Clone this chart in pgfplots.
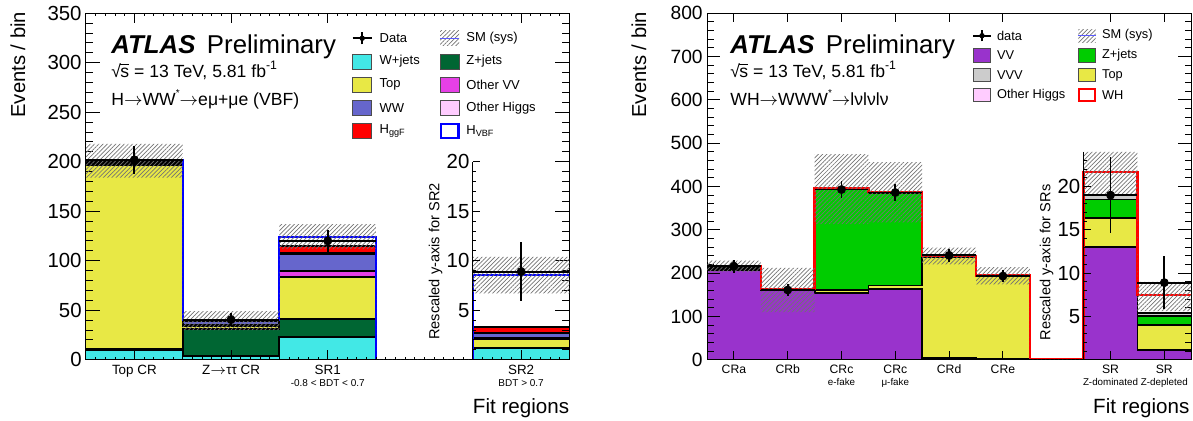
\documentclass[border=0pt]{standalone}
\usepackage{pgfplots}
\pgfplotsset{compat=1.18}
\usepackage{pgfplotstable}
\usetikzlibrary{patterns.meta}
\usepackage{fontspec}
\setmainfont{Liberation Sans}
\newcommand{\fs}[1]{\fontsize{#1}{#1}\selectfont}
\newcommand{\ar}{$\rightarrow$}
\newcommand{\st}{\raisebox{4.2pt}{\fs{5}*}}
\newcommand{\sqs}{√\kern-0.3pt\rlap{\rule[6.3pt]{4.4pt}{0.45pt}}s}

\definecolor{cWj}{RGB}{66,232,230}
\definecolor{cTop}{RGB}{232,232,69}
\definecolor{cWW}{RGB}{102,102,204}
\definecolor{cZjL}{RGB}{0,102,51}
\definecolor{cOVV}{RGB}{230,64,230}
\definecolor{cOH}{RGB}{255,204,255}
\definecolor{cVV}{RGB}{153,51,204}
\definecolor{cVVV}{RGB}{204,204,204}
\definecolor{cZjR}{RGB}{0,204,0}
\definecolor{cSM}{RGB}{90,90,255}

\tikzset{hatch/.style={pattern={Lines[angle=45,distance=1.5pt,line width=0.35pt]}, pattern color=black!55}}

% ---------- left panel: H->WW (VBF) ----------
\pgfplotstableread{
x s wj zj top ovv ww oh ggf vbf lo hi
0 1 10 0.5 186.5 1 2 0.3 0.7 1 184 218
1 1 4 27 3 1.5 3 0.3 0.5 0.7 30 49
2 1 23 18 42.5 6 17.5 1 6.5 9.5 112 137
3 1 0 0 0 0 0 0 0 0 0 0
4 10 1.15 0.05 0.85 0.15 0.45 0.05 0.6 5.3 6.7 10.4
5 10 1.15 0.05 0.85 0.15 0.45 0.05 0.6 5.3 6.7 10.4
}\tabL
\pgfplotstablecreatecol[create col/expr={\thisrow{wj}*\thisrow{s}}]{c1}{\tabL}
\pgfplotstablecreatecol[create col/expr={\thisrow{c1}+\thisrow{zj}*\thisrow{s}}]{c2}{\tabL}
\pgfplotstablecreatecol[create col/expr={\thisrow{c2}+\thisrow{top}*\thisrow{s}}]{c3}{\tabL}
\pgfplotstablecreatecol[create col/expr={\thisrow{c3}+\thisrow{ovv}*\thisrow{s}}]{c4}{\tabL}
\pgfplotstablecreatecol[create col/expr={\thisrow{c4}+\thisrow{ww}*\thisrow{s}}]{c5}{\tabL}
\pgfplotstablecreatecol[create col/expr={\thisrow{c5}+\thisrow{oh}*\thisrow{s}}]{c6}{\tabL}
\pgfplotstablecreatecol[create col/expr={\thisrow{c6}+\thisrow{ggf}*\thisrow{s}}]{c7}{\tabL}
\pgfplotstablecreatecol[create col/expr={\thisrow{c7}+\thisrow{vbf}*\thisrow{s}}]{c8}{\tabL}

\pgfplotstableread{
x d e s
0 202 14.2 1
1 40.5 6.4 1
2 120 11 1
4 8.9 3.0 10
}\datL

% ---------- right panel: WH->WWW ----------
\pgfplotstableread{
x s vv top zj vvv oh wh lo hi
0 1 206 4 3 2 0.3 0.7 202 229
1 1 160 0.5 0.5 1 0.2 0.8 110 212
2 1 154.5 6.5 232 1.5 0.3 1.2 313 475
3 1 162.5 9 214 1 0.2 0.8 317 456
4 1 3 235 0.5 0.5 0.3 0.7 220 259
5 1 1.5 191.5 0.3 0.2 0.2 0.8 174 214
6 1 0 0 0 0 0 0 0 0
7 20 13 3.4 2.1 0.45 0.05 2.7 19.1 24
8 20 1.15 2.85 1 0.4 0.05 2.05 5.6 9.0
9 20 1.15 2.85 1 0.4 0.05 2.05 5.6 9.0
}\tabR
\pgfplotstablecreatecol[create col/expr={\thisrow{vv}*\thisrow{s}}]{c1}{\tabR}
\pgfplotstablecreatecol[create col/expr={\thisrow{c1}+\thisrow{top}*\thisrow{s}}]{c2}{\tabR}
\pgfplotstablecreatecol[create col/expr={\thisrow{c2}+\thisrow{zj}*\thisrow{s}}]{c3}{\tabR}
\pgfplotstablecreatecol[create col/expr={\thisrow{c3}+\thisrow{vvv}*\thisrow{s}}]{c4}{\tabR}
\pgfplotstablecreatecol[create col/expr={\thisrow{c4}+\thisrow{oh}*\thisrow{s}}]{c5}{\tabR}
\pgfplotstablecreatecol[create col/expr={\thisrow{c5}+\thisrow{wh}*\thisrow{s}}]{c6}{\tabR}

\pgfplotstableread{
x d e s
0 216 15 1
1 161 13 1
2 393 20 1
3 386 20 1
4 241 15.5 1
5 193 14 1
7 19 4.4 20
8 8.9 3.05 20
}\datR

\pgfplotsset{
  atlas/.style={
    scale only axis, anchor=south west, axis on top,
    axis line style={line width=0.5pt},
    every tick/.append style={black, line width=0.5pt},
    /pgf/number format/assume math mode=true,
    yticklabel style={inner sep=0pt, xshift=-2pt},
    xticklabel style={align=center, inner sep=0pt, yshift=-2.4pt},
  },
  over/.style={scale only axis, anchor=south west, hide axis, clip=false},
  lay/.style={const plot, draw=none, fill=#1, forget plot},
  edge/.style={const plot, black, line width=0.9pt, forget plot},
  datstep/.style={only marks, mark=none, forget plot,
    error bars/.cd, x dir=both, x fixed=0.5, error mark=none,
    error bar style={black, line width=0.9pt}},
  datpt/.style={only marks, mark=*, mark size=1.35pt, black, forget plot,
    error bars/.cd, y dir=both, y explicit, error mark=none,
    error bar style={black, line width=0.9pt}},
  second/.style={scale only axis, anchor=south west, axis x line=none, axis y line=left,
    y axis line style={-, line width=0.5pt}, tick align=inside,
    every tick/.append style={black, line width=0.5pt},
    major tick length=3.6pt, minor tick length=1.8pt,
    ytick={5,10,15,20},
    /pgf/number format/assume math mode=true,
    yticklabel style={font=\fs{10.2}, inner sep=0pt, xshift=-1.5pt},
    xmin=0, xmax=1, ymin=0},
}

\begin{document}
\begin{tikzpicture}
\useasboundingbox (0,0) rectangle (596.5pt,210.5pt);

% ================= LEFT =================
\begin{axis}[atlas, at={(43pt,30.65pt)}, width=241.75pt, height=173.2pt,
  xmin=0, xmax=5, ymin=0, ymax=350,
  ytick distance=50, minor y tick num=4,
  major tick length=7pt, minor tick length=3.5pt,
  xtick={0.5,1.5,2.5,4.5},
  minor xtick={0.1,0.2,...,4.95},
  xtick style={/pgfplots/major tick length=4.8pt, /pgfplots/minor tick length=1.4pt},
  xticklabels={Top CR, Z\ar ττ CR, {SR1\\{\fs{5}-0.8 < BDT < 0.7}}, {SR2\\{\fs{5}BDT > 0.7}}},
  yticklabel style={font=\fs{10.2}},
  xticklabel style={font=\fontsize{6.7}{6}\selectfont},
]
\addplot[lay=white] table[x=x,y=c8]{\tabL} \closedcycle;
\addplot[lay=red] table[x=x,y=c7]{\tabL} \closedcycle;
\addplot[lay=cOH] table[x=x,y=c6]{\tabL} \closedcycle;
\addplot[lay=cWW] table[x=x,y=c5]{\tabL} \closedcycle;
\addplot[lay=cOVV] table[x=x,y=c4]{\tabL} \closedcycle;
\addplot[lay=cTop] table[x=x,y=c3]{\tabL} \closedcycle;
\addplot[lay=cZjL] table[x=x,y=c2]{\tabL} \closedcycle;
\addplot[lay=cWj] table[x=x,y=c1]{\tabL} \closedcycle;
\addplot[edge] table[x=x,y=c1]{\tabL};
\addplot[edge] table[x=x,y=c2]{\tabL};
\addplot[edge] table[x=x,y=c3]{\tabL};
\addplot[edge] table[x=x,y=c4]{\tabL};
\addplot[edge] table[x=x,y=c5]{\tabL};
\addplot[edge] table[x=x,y=c6]{\tabL};
\addplot[edge] table[x=x,y=c7]{\tabL};
\addplot[const plot, blue, line width=1pt, forget plot] table[x=x,y=c8]{\tabL};
\end{axis}

% band
\begin{axis}[over, at={(43pt,30.65pt)}, width=241.75pt, height=173.2pt,
  xmin=0, xmax=5, ymin=0, ymax=350, stack plots=y]
\addplot[const plot, draw=none, forget plot] table[x=x, y expr=\thisrow{lo}*\thisrow{s}]{\tabL};
\addplot[const plot, draw=none, hatch, forget plot] table[x=x, y expr=(\thisrow{hi}-\thisrow{lo})*\thisrow{s}]{\tabL} \closedcycle;
\end{axis}

% data
\begin{axis}[over, at={(43pt,30.65pt)}, width=241.75pt, height=173.2pt,
  xmin=0, xmax=5, ymin=0, ymax=350]
\addplot[datstep] table[x expr=\thisrow{x}+0.5, y expr=\thisrow{d}*\thisrow{s}]{\datL};
\addplot[datpt] table[x expr=\thisrow{x}+0.5, y expr=\thisrow{d}*\thisrow{s}, y error expr=\thisrow{e}*\thisrow{s}]{\datL};
\end{axis}

\begin{axis}[second, at={(236.4pt,30.65pt)}, width=48.35pt, height=98.97pt, ymax=20,
  minor ytick={1,2,3,4,6,7,8,9,11,12,13,14,16,17,18,19}]
\addplot[draw=none, forget plot] coordinates {(0,0) (1,20)};
\end{axis}

% ================= RIGHT =================
\begin{axis}[atlas, at={(353.5pt,30.65pt)}, width=242.1pt, height=173.2pt,
  xmin=0, xmax=9, ymin=0, ymax=800,
  ytick distance=100, minor y tick num=4,
  major tick length=6.5pt, minor tick length=3.25pt,
  xtick={0.5,1.5,2.5,3.5,4.5,5.5,7.5,8.5},
  xtick style={/pgfplots/major tick length=4.4pt},
  xticklabels={CRa, CRb, {CRc\\{\fs{4.9}e-fake}}, {CRc\\{\fs{4.9}μ-fake}}, CRd, CRe, {SR\\{\fs{4.9}Z-dominated}}, {SR\\{\fs{4.9}Z-depleted}}},
  yticklabel style={font=\fs{9.6}},
  xticklabel style={font=\fontsize{6.1}{6}\selectfont},
]
\addplot[lay=white] table[x=x,y=c6]{\tabR} \closedcycle;
\addplot[lay=cOH] table[x=x,y=c5]{\tabR} \closedcycle;
\addplot[lay=cVVV] table[x=x,y=c4]{\tabR} \closedcycle;
\addplot[lay=cZjR] table[x=x,y=c3]{\tabR} \closedcycle;
\addplot[lay=cTop] table[x=x,y=c2]{\tabR} \closedcycle;
\addplot[lay=cVV] table[x=x,y=c1]{\tabR} \closedcycle;
\addplot[edge] table[x=x,y=c1]{\tabR};
\addplot[edge] table[x=x,y=c2]{\tabR};
\addplot[edge] table[x=x,y=c3]{\tabR};
\addplot[edge] table[x=x,y=c4]{\tabR};
\addplot[edge] table[x=x,y=c5]{\tabR};
\addplot[const plot, red, line width=1.2pt, forget plot] table[x=x,y=c6]{\tabR};
\end{axis}

\begin{axis}[over, at={(353.5pt,30.65pt)}, width=242.1pt, height=173.2pt,
  xmin=0, xmax=9, ymin=0, ymax=800, stack plots=y]
\addplot[const plot, draw=none, forget plot] table[x=x, y expr=\thisrow{lo}*\thisrow{s}]{\tabR};
\addplot[const plot, draw=none, hatch, forget plot] table[x=x, y expr=(\thisrow{hi}-\thisrow{lo})*\thisrow{s}]{\tabR} \closedcycle;
\end{axis}

\begin{axis}[over, at={(353.5pt,30.65pt)}, width=242.1pt, height=173.2pt,
  xmin=0, xmax=9, ymin=0, ymax=800]
\addplot[datstep] table[x expr=\thisrow{x}+0.5, y expr=\thisrow{d}*\thisrow{s}]{\datR};
\addplot[datpt] table[x expr=\thisrow{x}+0.5, y expr=\thisrow{d}*\thisrow{s}, y error expr=\thisrow{e}*\thisrow{s}]{\datR};
\end{axis}

\begin{axis}[second, at={(541.8pt,30.65pt)}, width=26.9pt, height=103.92pt, ymax=24,
  minor ytick={1,2,3,4,6,7,8,9,11,12,13,14,16,17,18,19,21,22,23}]
\addplot[draw=none, forget plot] coordinates {(0,0) (1,24)};
\end{axis}

% ================= TEXT =================
\node[rotate=90, anchor=east, inner sep=0, font=\fs{10.1}] at (8.9pt,204.7pt) {Events / bin};
\node[rotate=90, anchor=east, inner sep=0, font=\fs{10.1}] at (319.4pt,204.7pt) {Events / bin};
\node[anchor=base east, inner sep=0, font=\fs{10.3}] at (284.75pt,3.65pt) {Fit regions};
\node[anchor=base east, inner sep=0, font=\fs{10.3}] at (594.9pt,3.65pt) {Fit regions};
\node[rotate=90, inner sep=0, font=\fs{7.3}] at (217.75pt,79.75pt) {Rescaled y-axis for SR2};
\node[rotate=90, inner sep=0, font=\fs{7.3}] at (523.25pt,79.25pt) {Rescaled y-axis for SRs};

\node[anchor=base west, inner sep=0, font=\fs{12.9}] at (55.5pt,183.5pt) {\textbf{\textit{ATLAS}}\hspace{5.75pt}Preliminary};
\node[anchor=base west, inner sep=0, font=\fs{8.8}] at (55.5pt,171.85pt) {\sqs{} = 13 TeV, 5.81 fb\textsuperscript{-1}};
\node[anchor=base west, inner sep=0, font=\fs{8.8}] at (55.5pt,157.85pt) {H\ar WW\st\ar eμ+μe (VBF)};

\node[anchor=base west, inner sep=0, font=\fs{12.9}] at (365pt,183.5pt) {\textbf{\textit{ATLAS}}\hspace{5.75pt}Preliminary};
\node[anchor=base west, inner sep=0, font=\fs{8.8}] at (365pt,171.85pt) {\sqs{} = 13 TeV, 5.81 fb\textsuperscript{-1}};
\node[anchor=base west, inner sep=0, font=\fs{8.8}] at (365pt,157.85pt) {WH\ar WWW\st\ar lνlνlν};

% ---- left legend ----
\begin{scope}[font=\fs{6.5}]
\draw[line width=0.9pt] (176.35pt,191.35pt) -- (185.85pt,191.35pt);
\draw[line width=0.9pt] (181.1pt,188.3pt) -- (181.1pt,194.4pt);
\fill (181.1pt,191.35pt) circle (1.35pt);
\node[anchor=west, inner sep=0] at (189.65pt,191.35pt) {Data};
\foreach \c/\t/\y in {cWj/W+jets/179.75, cTop/Top/168.15, cWW/WW/156.55, red/{H\textsubscript{ggF}}/144.95}{
  \filldraw[fill=\c, draw=black!70, line width=0.4pt] (176.35pt,\y pt-3.75pt) rectangle (185.85pt,\y pt+3.75pt);
  \node[anchor=west, inner sep=0] at (189.65pt,\y pt) {\t};
}
\fill[hatch] (220pt,187.6pt) rectangle (229.5pt,195.1pt);
\draw[cSM, line width=0.7pt] (220pt,191.35pt) -- (229.5pt,191.35pt);
\node[anchor=west, inner sep=0] at (233pt,191.35pt) {SM (sys)};
\foreach \c/\t/\y in {cZjL/Z+jets/179.75, cOVV/Other VV/168.15, cOH/Other Higgs/156.55}{
  \filldraw[fill=\c, draw=black!70, line width=0.4pt] (220pt,\y pt-3.75pt) rectangle (229.5pt,\y pt+3.75pt);
  \node[anchor=west, inner sep=0] at (233pt,\y pt) {\t};
}
\draw[blue, line width=1.1pt, fill=white] (220.3pt,141.5pt) rectangle (229.2pt,148.4pt);
\node[anchor=west, inner sep=0] at (233pt,144.95pt) {H\textsubscript{VBF}};
\end{scope}

% ---- right legend ----
\begin{scope}[font=\fs{6.4}]
\draw[line width=0.9pt] (486.65pt,192.65pt) -- (495.35pt,192.65pt);
\draw[line width=0.9pt] (491pt,189.8pt) -- (491pt,195.5pt);
\fill (491pt,192.65pt) circle (1.35pt);
\node[anchor=west, inner sep=0] at (498.35pt,192.65pt) {data};
\foreach \c/\t/\y in {cVV/VV/182.75, cVVV/VVV/172.85, cOH/Other Higgs/162.95}{
  \filldraw[fill=\c, draw=black!70, line width=0.4pt] (486.65pt,\y pt-3.3pt) rectangle (495.35pt,\y pt+3.3pt);
  \node[anchor=west, inner sep=0] at (498.35pt,\y pt) {\t};
}
\fill[hatch] (539.15pt,189.35pt) rectangle (547.85pt,195.95pt);
\draw[cSM, line width=0.7pt] (539.15pt,192.65pt) -- (547.85pt,192.65pt);
\node[anchor=west, inner sep=0] at (550.85pt,192.65pt) {SM (sys)};
\foreach \c/\t/\y in {cZjR/Z+jets/182.75, cTop/Top/172.85}{
  \filldraw[fill=\c, draw=black!70, line width=0.4pt] (539.15pt,\y pt-3.3pt) rectangle (547.85pt,\y pt+3.3pt);
  \node[anchor=west, inner sep=0] at (550.85pt,\y pt) {\t};
}
\draw[red, line width=1.1pt, fill=white] (539.45pt,159.85pt) rectangle (547.55pt,166.05pt);
\node[anchor=west, inner sep=0] at (550.85pt,162.95pt) {WH};
\end{scope}
\end{tikzpicture}
\end{document}
